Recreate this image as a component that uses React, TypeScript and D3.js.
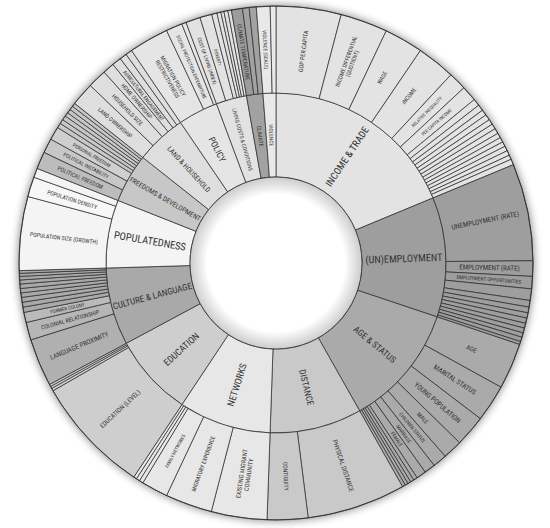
import React, { useEffect, useRef } from 'react';
import * as d3 from 'd3';

// inner ring, clockwise from 12 o'clock
const categories = [
  'INCOME & TRADE', '(UN)EMPLOYMENT', 'AGE & STATUS', 'DISTANCE', 'NETWORKS', 'EDUCATION',
  'CULTURE & LANGUAGE', 'POPULATEDNESS', 'FREEDOMS & DEVELOPMENT', 'LAND & HOUSEHOLD',
  'POLICY', 'LIVING COSTS & CONDITIONS', 'CLIMATE', 'VIOLENCE',
];

// outer ring per category: [label, share in degrees]; '' = unlabeled sliver
const incomeTrade: [string, number][] = [
  ['GDP PER CAPITA', 14.7], ['INCOME DIFFERENTIAL\n(QUOTIENT)', 10.7], ['WAGE', 8.8], ['INCOME', 8.7],
  ['RELATIVE INEQUALITY', 4.1], ['PER CAPITA INCOME', 3.5],
  ['', 1.6], ['', 1.4], ['', 1.3], ['', 1.3], ['', 1.2], ['', 1.2], ['', 1.2],
  ['', 1.1], ['', 1.1], ['', 1.1], ['', 1.1], ['', 1.1], ['', 1.0], ['', 1.3],
];
const employment: [string, number][] = [
  ['UNEMPLOYMENT (RATE)', 22.0], ['EMPLOYMENT (RATE)', 3.5], ['EMPLOYMENT OPPORTUNITIES', 2.8],
  ['', 2.6], ['', 1.5], ['', 1.3], ['', 1.2], ['', 1.2], ['', 1.1], ['', 1.1], ['', 1.0], ['', 1.0], ['', 0.7],
];
const ageStatus: [string, number][] = [
  ['AGE', 10.4], ['MARITAL STATUS', 8.4], ['YOUNG POPULATION', 7.1], ['MALE', 4.4],
  ['CHILDREN STATUS', 3.2], ['MARRIAGE', 2.5], ['FEMALE', 2.2],
  ['', 0.9], ['', 0.8], ['', 0.7], ['', 0.7], ['', 0.7],
];
const distance: [string, number][] = [['PHYSICAL DISTANCE', 22.3], ['CONTIGUITY', 9.2]];
const networks: [string, number][] = [
  ['EXISTING MIGRANT\nCOMMUNITY', 12.6], ['MIGRATORY EXPERIENCE', 10.6], ['FAMILY NETWORKS', 6.0],
  ['', 0.9], ['', 0.8], ['', 0.7],
];
const education: [string, number][] = [['EDUCATION (LEVEL)', 26.6], ['', 0.6], ['', 0.5], ['', 0.5]];
const cultureLanguage: [string, number][] = [
  ['LANGUAGE PROXIMITY', 10.8], ['COLONIAL RELATIONSHIP', 4.0], ['FORMER COLONY', 2.3],
  ['', 1.2], ['', 1.1], ['', 1.1], ['', 1.0], ['', 1.0], ['', 1.0], ['', 0.9], ['', 0.8], ['', 0.7], ['', 0.6],
];
const populatedness: [string, number][] = [
  ['POPULATION SIZE (GROWTH)', 16.7], ['POPULATION DENSITY', 4.5], ['', 2.1],
];
const freedoms: [string, number][] = [
  ['POLITICAL FREEDOM', 3.9], ['POLITICAL INSTABILITY', 3.3], ['PERSONAL FREEDOM', 3.0],
  ['', 1.1], ['', 1.0], ['', 1.0], ['', 0.9], ['', 0.9], ['', 0.9], ['', 0.8],
];
const landHousehold: [string, number][] = [
  ['LAND OWNERSHIP', 5.3], ['HOUSEHOLD SIZE', 4.3], ['HOME OWNERSHIP', 2.6],
  ['AGRICULTURAL ENGAGEMENT', 2.1], ['', 1.6], ['', 1.5],
];
const policy: [string, number][] = [
  ['MIGRATION POLICY\nRESTRICTIVENESS', 9.0], ['SOCIAL PROTECTION EXPENDITURE', 3.7], ['', 1.0],
];
const livingCosts: [string, number][] = [
  ['COST OF LIVING (INDEX)', 3.3], ['POVERTY', 2.7], ['', 1.2], ['', 0.9], ['', 0.7], ['', 0.9], ['', 0.8],
];
const climate: [string, number][] = [['CLIMATE TEMPERATURE', 2.5], ['', 1.5], ['', 1.6]];
const violence: [string, number][] = [['VIOLENCE (SCALE)', 3.1], ['', 1.3]];

const outerByCategory = [
  incomeTrade, employment, ageStatus, distance, networks, education, cultureLanguage,
  populatedness, freedoms, landHousehold, policy, livingCosts, climate, violence,
];

const shades = [
  '#e3e3e3', '#9e9e9e', '#aaaaaa', '#c9c9c9', '#e7e7e7', '#cecece', '#a9a9a9',
  '#f4f4f4', '#c7c7c7', '#dedede', '#e5e5e5', '#e2e2e2', '#a2a2a2', '#e9e9e9',
];
const outerShade: Record<string, string> = {
  'POLITICAL FREEDOM': '#bcbcbc', 'PERSONAL FREEDOM': '#cfcfcf', 'CLIMATE TEMPERATURE': '#9c9c9c',
  'POPULATION DENSITY': '#f7f7f7', 'LANGUAGE PROXIMITY': '#b0b0b0', 'COLONIAL RELATIONSHIP': '#b6b6b6',
  'FORMER COLONY': '#bababa',
};

// label sizes (px); anything not listed falls back to the ring default
const labelSize: Record<string, number> = {
  'INCOME & TRADE': 10, 'POPULATEDNESS': 10.4, '(UN)EMPLOYMENT': 10.2, 'NETWORKS': 9.6, 'EDUCATION': 9.4,
  'FREEDOMS & DEVELOPMENT': 7, 'LAND & HOUSEHOLD': 7.2, 'LIVING COSTS & CONDITIONS': 5.5,
  'CLIMATE': 5.8, 'VIOLENCE': 5.4,
  'UNEMPLOYMENT (RATE)': 7, 'EMPLOYMENT (RATE)': 7, 'MARITAL STATUS': 7, 'YOUNG POPULATION': 7,
  'LANGUAGE PROXIMITY': 6.8, 'GDP PER CAPITA': 6.2, 'AGE': 6.5, 'PHYSICAL DISTANCE': 6.5,
  'EDUCATION (LEVEL)': 6.5, 'EXISTING MIGRANT\nCOMMUNITY': 6.3,
  'RELATIVE INEQUALITY': 4.6, 'PER CAPITA INCOME': 4.6, 'EMPLOYMENT OPPORTUNITIES': 5.2,
  'CHILDREN STATUS': 5, 'MARRIAGE': 5, 'FEMALE': 5, 'FAMILY NETWORKS': 4.8, 'FORMER COLONY': 5,
  'PERSONAL FREEDOM': 5, 'POLITICAL INSTABILITY': 5.3, 'SOCIAL PROTECTION EXPENDITURE': 4.8,
  'COST OF LIVING (INDEX)': 5, 'POVERTY': 4.6, 'VIOLENCE (SCALE)': 5.2, 'AGRICULTURAL ENGAGEMENT': 5.2,
};

const width = 550;
const height = 528;
const cx = 276;
const cy = 263;
const rHole = 86;
const rMid = 170;
const rOut = 257;
const font = "'Liberation Sans Narrow', 'Roboto Condensed', 'Open Sans', sans-serif";

type Node = { name: string; shade?: string; value?: number; children?: Node[] };

const App = () => {
  const svgRef = useRef<SVGSVGElement>(null);

  useEffect(() => {
    const svg = d3.select(svgRef.current);
    svg.selectAll('*').remove();

    const defs = svg.append('defs');
    defs.append('filter').attr('id', 'halo').attr('x', '-20%').attr('y', '-20%')
      .attr('width', '140%').attr('height', '140%')
      .append('feGaussianBlur').attr('stdDeviation', 4);
    const hole = defs.append('radialGradient').attr('id', 'hole');
    hole.append('stop').attr('offset', '0.8').attr('stop-color', '#ffffff');
    hole.append('stop').attr('offset', '1').attr('stop-color', '#cccccc');

    const data: Node = {
      name: 'root',
      children: categories.map((c, i) => ({
        name: c,
        shade: shades[i],
        children: outerByCategory[i].map(([n, v]) => ({ name: n, value: v, shade: outerShade[n] || shades[i] })),
      })),
    };

    const root = d3.hierarchy<Node>(data).sum(d => d.value || 0);
    d3.partition<Node>().size([2 * Math.PI, 2])(root);
    const nodes = root.descendants().filter(d => d.depth > 0) as d3.HierarchyRectangularNode<Node>[];

    const inner = (d: any) => (d.depth === 1 ? rHole : rMid);
    const outer = (d: any) => (d.depth === 1 ? rMid : rOut);

    const arc = d3.arc<any>()
      .startAngle(d => d.x0)
      .endAngle(d => d.x1)
      .innerRadius(inner)
      .outerRadius(outer);

    const g = svg.append('g').attr('transform', `translate(${cx},${cy})`);

    g.append('circle').attr('r', rOut + 1).attr('fill', '#000').attr('opacity', 0.45)
      .attr('filter', 'url(#halo)');

    g.append('g')
      .selectAll('path')
      .data(nodes)
      .join('path')
        .attr('d', arc)
        .attr('fill', d => d.data.shade || '#ddd')
        .attr('stroke', '#2b2b2b')
        .attr('stroke-width', 0.7);

    g.append('circle').attr('r', rHole).attr('fill', 'url(#hole)')
      .attr('stroke', '#2b2b2b').attr('stroke-width', 0.8);
    g.append('circle').attr('r', rOut).attr('fill', 'none')
      .attr('stroke', '#2b2b2b').attr('stroke-width', 0.8);

    const labelled = nodes.filter(d => d.data.name !== '');
    const text = g.append('g')
      .attr('font-family', font)
      .attr('fill', '#333333')
      .attr('text-anchor', 'middle')
      .selectAll('text')
      .data(labelled)
      .join('text')
        .attr('transform', d => {
          const a = ((d.x0 + d.x1) / 2) * 180 / Math.PI;
          const r = (inner(d) + outer(d)) / 2;
          return `rotate(${a - 90}) translate(${r},0) rotate(${a < 180 ? 0 : 180})`;
        })
        .attr('font-size', d => labelSize[d.data.name] || (d.depth === 1 ? 9 : 5.8));

    text.each(function (d) {
      const lines = d.data.name.split('\n');
      d3.select(this).selectAll('tspan')
        .data(lines)
        .join('tspan')
          .attr('x', 0)
          .attr('dy', (_, i) => (i === 0 ? `${0.35 - (lines.length - 1) * 0.55}em` : '1.1em'))
          .text(l => l);
    });
  }, []);

  return (
    <svg
      ref={svgRef}
      width={width}
      height={height}
      style={{ position: 'absolute', left: 0, top: 0, background: '#fff' }}
    />
  );
};

export default App;
